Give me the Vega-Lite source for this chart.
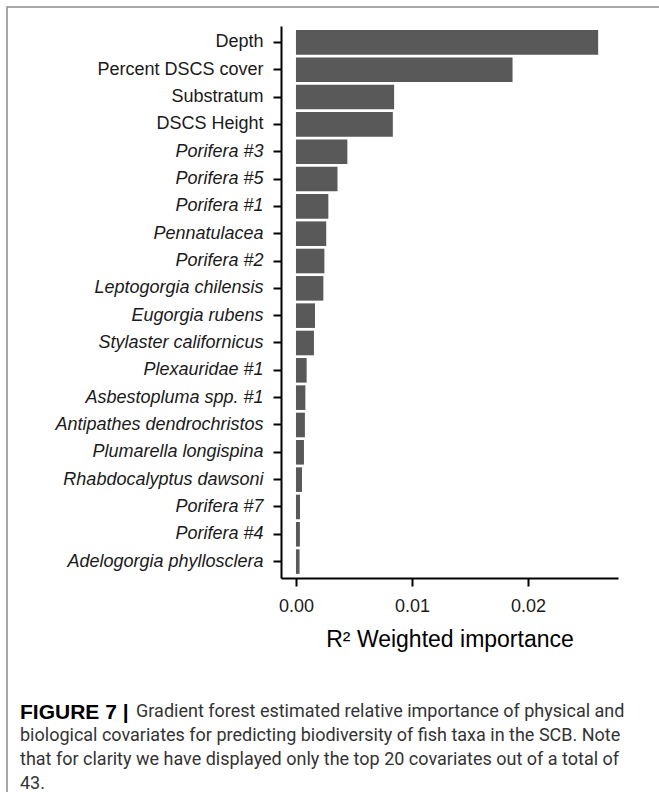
{
  "$schema": "https://vega.github.io/schema/vega-lite/v6.json",
  "width": 660,
  "height": 820,
  "autosize": {"type": "none"},
  "padding": {"left": 7, "top": 7, "right": 0, "bottom": 0},
  "background": "white",
  "config": {
    "view": {"stroke": "#8c8c8c", "strokeWidth": 1.5},
    "axis": {"grid": false, "domainColor": "#000000", "domainWidth": 2, "tickColor": "#000000", "tickWidth": 2, "tickSize": 8, "labelFont": "Liberation Sans", "labelFontSize": 18, "labelColor": "#1a1a1a", "labelLimit": 400, "titleFont": "Liberation Sans"}
  },
  "data": {"values": [
    {"covariate": "Depth", "importance": 0.02605},
    {"covariate": "Percent DSCS cover", "importance": 0.01867},
    {"covariate": "Substratum", "importance": 0.00846},
    {"covariate": "DSCS Height", "importance": 0.00835},
    {"covariate": "Porifera #3", "importance": 0.00443},
    {"covariate": "Porifera #5", "importance": 0.00358},
    {"covariate": "Porifera #1", "importance": 0.00279},
    {"covariate": "Pennatulacea", "importance": 0.00261},
    {"covariate": "Porifera #2", "importance": 0.00245},
    {"covariate": "Leptogorgia chilensis", "importance": 0.00236},
    {"covariate": "Eugorgia rubens", "importance": 0.00164},
    {"covariate": "Stylaster californicus", "importance": 0.00155},
    {"covariate": "Plexauridae #1", "importance": 0.00092},
    {"covariate": "Asbestopluma spp. #1", "importance": 0.00081},
    {"covariate": "Antipathes dendrochristos", "importance": 0.00077},
    {"covariate": "Plumarella longispina", "importance": 0.00069},
    {"covariate": "Rhabdocalyptus dawsoni", "importance": 0.00052},
    {"covariate": "Porifera #7", "importance": 0.00035},
    {"covariate": "Porifera #4", "importance": 0.00034},
    {"covariate": "Adelogorgia phyllosclera", "importance": 0.00031}
  ]},
  "mark": {"type": "bar", "color": "#595959"},
  "encoding": {
    "y": {
      "field": "covariate", "type": "nominal", "sort": null,
      "scale": {"range": [19, 571], "paddingInner": 0.1, "paddingOuter": 0.15},
      "axis": {
        "title": null, "offset": -274, "labelPadding": 10,
        "labelFontStyle": {"condition": {"test": "indexof(['Depth','Percent DSCS cover','Substratum','DSCS Height'], datum.value) >= 0", "value": "normal"}, "value": "italic"}
      }
    },
    "x": {
      "field": "importance", "type": "quantitative",
      "scale": {"domain": [-0.00129, 0.02776], "range": [274, 611], "nice": false, "zero": false},
      "axis": {
        "title": "R² Weighted importance", "offset": -249, "values": [0, 0.01, 0.02], "format": ".2f",
        "labelPadding": 11, "titleFontSize": 23, "titleFontWeight": "normal", "titleColor": "#000000",
        "titleBaseline": "alphabetic", "titleY": 68
      }
    }
  },
  "title": {
    "text": "FIGURE 7 |",
    "subtitle": [
      "\u200b\u00a0\u00a0\u00a0\u00a0\u00a0\u00a0\u00a0\u00a0\u00a0\u00a0\u00a0\u00a0\u00a0\u00a0\u00a0\u00a0\u00a0\u00a0\u00a0\u00a0\u00a0\u00a0\u00a0\u00a0\u00a0\u00a0Gradient forest estimated relative importance of physical and",
      "biological covariates for predicting biodiversity of fish taxa in the SCB. Note",
      "that for clarity we have displayed only the top 20 covariates out of a total of",
      "43."
    ],
    "orient": "bottom", "anchor": "start", "frame": "group", "offset": -125, "dx": 13,
    "font": "Liberation Sans", "fontSize": 21, "fontWeight": "bold", "color": "#000000",
    "subtitleFont": "Roboto", "subtitleFontSize": 18, "subtitleColor": "#333333",
    "subtitleLineHeight": 24, "subtitlePadding": -20
  }
}
